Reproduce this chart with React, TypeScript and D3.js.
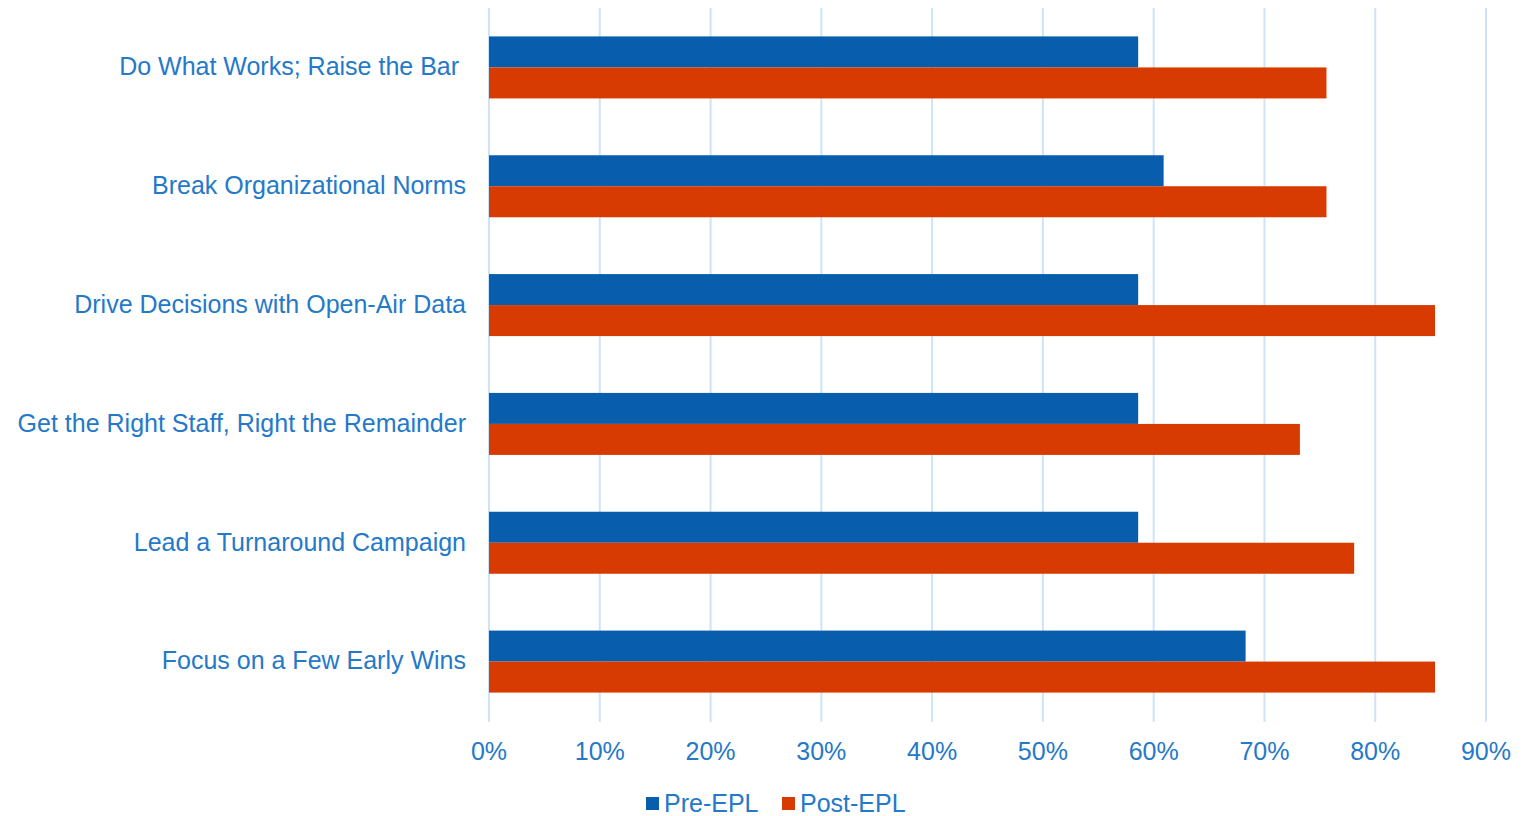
import React from "react";
import * as d3 from "d3";

const categories = [
  "Do What Works; Raise the Bar ",
  "Break Organizational Norms",
  "Drive Decisions with Open-Air Data",
  "Get the Right Staff, Right the Remainder",
  "Lead a Turnaround Campaign",
  "Focus on a Few Early Wins",
];
const preEPL = [0.586, 0.609, 0.586, 0.586, 0.586, 0.683];
const postEPL = [0.756, 0.756, 0.854, 0.732, 0.781, 0.854];
const xTicks = [0, 0.1, 0.2, 0.3, 0.4, 0.5, 0.6, 0.7, 0.8, 0.9];
const seriesNames = ["Pre-EPL", "Post-EPL"];

const W = 1524;
const H = 816;
const BLUE = "#085DAD";
const RED = "#D83B01";
const TEXT = "#2479C8";
const GRID = "#CFE3F6";
const FONT = "'Liberation Sans', Arial, Helvetica, sans-serif";
const FS = 25;

export default function App() {
  const x = d3.scaleLinear().domain([0, 0.9]).range([489, 1486]);
  const y = d3.scaleBand<string>().domain(categories).range([8, 721]).paddingInner(0).paddingOuter(0);
  const step = y.step();
  const groupH = 62;
  const sub = d3.scaleBand<string>().domain(seriesNames).range([0, groupH]);
  const colors = [BLUE, RED];
  const series = [preEPL, postEPL];

  return (
    <svg width={W} height={H} style={{ position: "absolute", left: 0, top: 0, background: "#fff" }} fontFamily={FONT}>
      {xTicks.map((t) => (
        <line key={"g" + t} x1={x(t)} x2={x(t)} y1={8} y2={722} stroke={GRID} strokeWidth={2} />
      ))}
      {categories.map((c, i) => {
        const y0 = (y(c) as number) + (step - groupH) / 2;
        return (
          <g key={c}>
            {series.map((s, k) => (
              <rect
                key={k}
                x={x(0)}
                y={y0 + (sub(seriesNames[k]) as number)}
                width={x(s[i]) - x(0)}
                height={sub.bandwidth()}
                fill={colors[k]}
              />
            ))}
            <text
              x={466}
              y={(y(c) as number) + step / 2 - 1}
              dy="0.35em"
              textAnchor="end"
              fontSize={FS}
              fill={TEXT}
              style={{ whiteSpace: "pre" }}
            >
              {c}
            </text>
          </g>
        );
      })}
      {xTicks.map((t) => (
        <text key={"t" + t} x={x(t)} y={751} dy="0.35em" textAnchor="middle" fontSize={FS} fill={TEXT}>
          {d3.format(".0%")(t)}
        </text>
      ))}
      <g>
        <rect x={646} y={797} width={13} height={13} fill={BLUE} />
        <text x={664} y={803} dy="0.35em" fontSize={FS} fill={TEXT}>{seriesNames[0]}</text>
        <rect x={782} y={797} width={13} height={13} fill={RED} />
        <text x={800} y={803} dy="0.35em" fontSize={FS} fill={TEXT}>{seriesNames[1]}</text>
      </g>
    </svg>
  );
}
